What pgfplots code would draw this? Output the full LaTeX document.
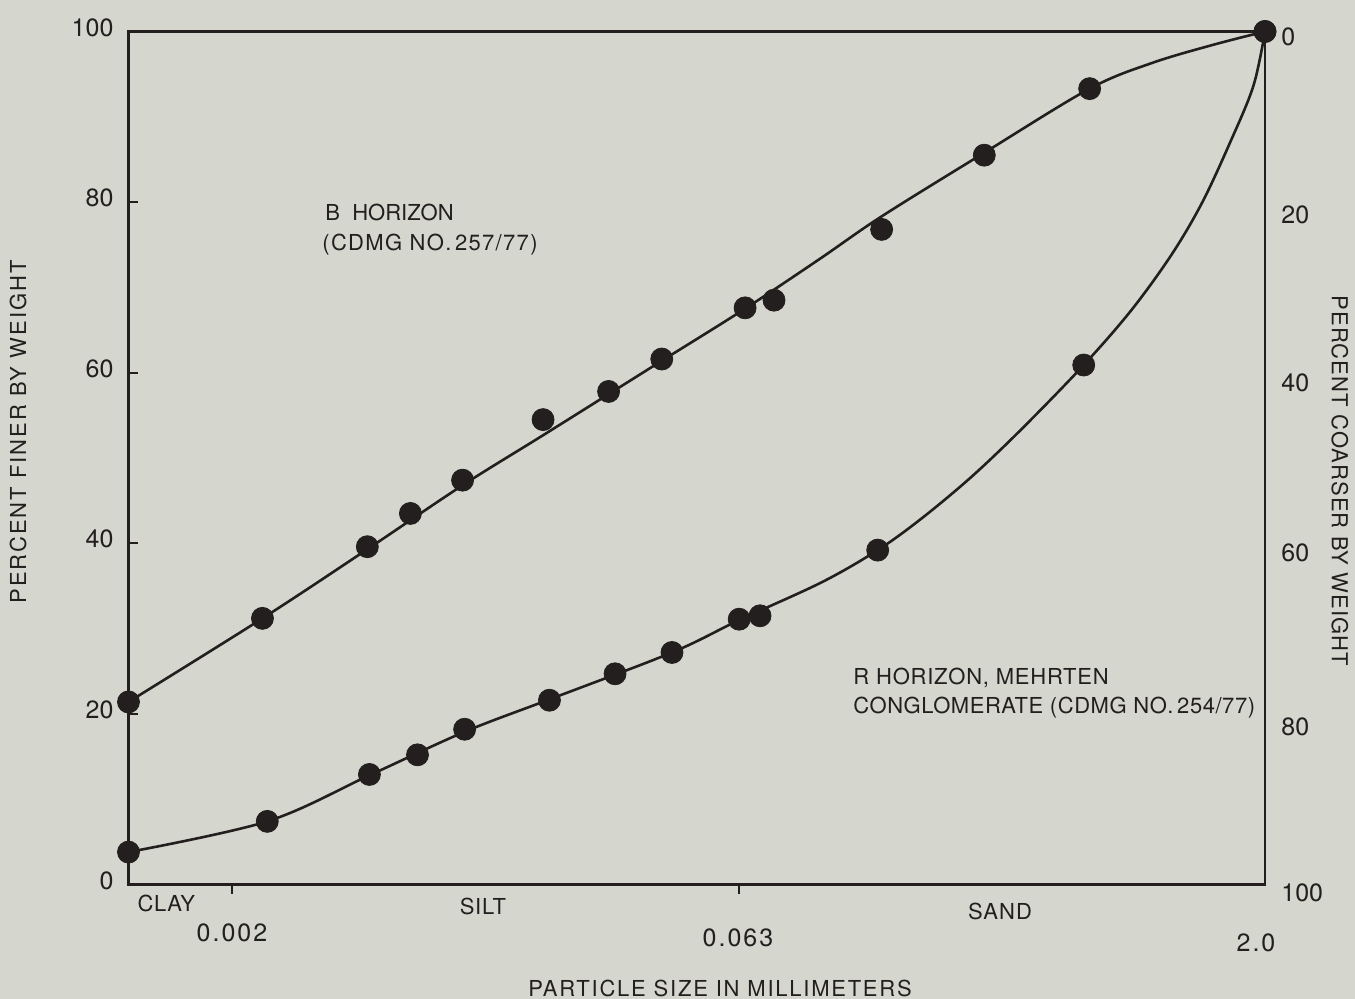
\documentclass[border=0pt]{standalone}
\usepackage{pgfplots}
\pgfplotsset{compat=1.18}
\usepackage{pgfplotstable}
\usepackage{fontspec}
\setmainfont{TeX Gyre Heros}

\definecolor{paper}{RGB}{213,215,207}
\definecolor{ink}{RGB}{36,31,31}

\newcommand{\spaced}[1]{\addfontfeatures{LetterSpace=#1}}

% Grain-size distribution: particle size (mm) vs. percent finer by weight
\pgfplotstableread{
size   finer
0.001   21.4
0.00245 31.2
0.00494 39.6
0.00659 43.5
0.00934 47.4
0.0160  54.5
0.0248  57.8
0.0354  61.6
0.0618  67.6
0.0750  68.5
0.154   76.8
0.306   85.5
0.619   93.3
2.0     100
}\bpoints

% faired curve, B horizon
\pgfplotstableread{
size   finer
0.001   21.4
0.00245 31.2
0.00494 39.3
0.00934 46.8
0.01576 52.5
0.02484 57.5
0.03542 61.4
0.06177 67.5
0.1015  73.3
0.1537  78.3
0.3064  85.8
0.6193  93.3
0.9382  96.3
1.403   98.4
2.0     100
}\bcurve

\pgfplotstableread{
size   finer
0.001   3.8
0.00253 7.4
0.00501 12.9
0.00691 15.2
0.00947 18.2
0.0167  21.6
0.0259  24.7
0.0379  27.2
0.0594  31.1
0.0683  31.5
0.150   39.2
0.595   60.9
2.0     100
}\rpoints

% faired curve, R horizon
\pgfplotstableread{
size   finer
0.001   3.8
0.00253 7.4
0.00501 12.8
0.00947 17.9
0.0167  21.7
0.0379  27.2
0.0594  31.0
0.1028  35.4
0.150   39.2
0.201   42.9
0.281   47.8
0.393   53.4
0.595   60.9
0.8208  67.4
1.073   73.9
1.312   79.9
1.576   86.8
1.85    93.6
2.0     100
}\rcurve

\begin{document}
\begin{tikzpicture}[font=\fontsize{11}{13}\selectfont, color=ink]
% paper
\fill[paper] (-64.25pt,-57.25pt) rectangle (613.25pt,442.25pt);

\begin{axis}[
  at={(0,0)}, anchor=south west,
  scale only axis,
  width=568.25pt, height=426.5pt,
  xmode=log,
  xmin=0.001, xmax=2,
  ymin=0, ymax=100,
  axis line style={ink, line width=1.3pt},
  xtick=\empty,
  ytick={0,20,40,60,80,100},
  ytick pos=left,
  tick align=inside,
  major tick length=5pt,
  tick style={ink, line width=1pt},
  yticklabel style={font=\fontsize{12.5}{14}\selectfont, xshift=-4pt, yshift=2pt, text=ink},
  /pgf/number format/assume math mode=true,
  clip=false,
]
  \addplot[ink, line width=1.3pt, smooth, tension=0.55] table[x=size, y=finer] {\bcurve};
  \addplot[ink, line width=1.3pt, smooth, tension=0.55] table[x=size, y=finer] {\rcurve};
  \addplot[only marks, mark=*, mark size=5.5pt, mark options={fill=ink, draw=ink}] table[x=size, y=finer] {\bpoints};
  \addplot[only marks, mark=*, mark size=5.5pt, mark options={fill=ink, draw=ink}] table[x=size, y=finer] {\rpoints};

  % outward ticks on the size axis
  \draw[ink, line width=1pt] (axis cs:0.002,0) -- ([yshift=-5pt]axis cs:0.002,0);
  \draw[ink, line width=1pt] (axis cs:0.0595,0) -- ([yshift=-5pt]axis cs:0.0595,0);
\end{axis}

% size labels
\begin{scope}[every node/.style={font=\fontsize{12.5}{14}\selectfont\spaced{8}}]
\node at (51.75pt,-24.25pt) {0.002};
\node at (304.75pt,-26.75pt) {0.063};
\node at (563.75pt,-29.25pt) {2.0};
\end{scope}

% size classes
\node[anchor=west] at (1pt,-9.25pt) {\spaced{3}CLAY};
\node at (177.25pt,-10.75pt) {\spaced{3}SILT};
\node at (435.75pt,-13.25pt) {\spaced{5}SAND};

% axis titles
\node at (295.75pt,-51.75pt) {\spaced{8}PARTICLE SIZE IN MILLIMETERS};
\node[rotate=90] at (-55.25pt,226.25pt) {\spaced{9}PERCENT FINER BY WEIGHT};
\node[rotate=-90] at (605.75pt,201.75pt) {\spaced{5}PERCENT COARSER BY WEIGHT};

% percent coarser scale
\foreach \v/\yy in {0/423.75, 20/334.75, 40/250.75, 60/165.75, 80/78.75, 100/-4.25}
  \node[anchor=west, font=\fontsize{12.5}{14}\selectfont, inner sep=0pt] at (576.25pt,\yy pt) {\v};

% curve annotations
\node[anchor=west, inner sep=0pt] at (98.25pt,336.25pt) {B\ \ HORIZON};
\node[anchor=west, inner sep=0pt] at (96.75pt,319.75pt) {\spaced{6}(CDMG NO.\,257/77)};
\node[anchor=west, inner sep=0pt] at (362.25pt,103.25pt) {\spaced{3.5}R HORIZON, MEHRTEN};
\node[anchor=west, inner sep=0pt] at (362.25pt,88.25pt) {\spaced{2.5}CONGLOMERATE (CDMG NO.\,254/77)};

\pgfresetboundingbox
\path (-64.25pt,-57.25pt) rectangle (613.25pt,442.25pt);
\end{tikzpicture}
\end{document}
